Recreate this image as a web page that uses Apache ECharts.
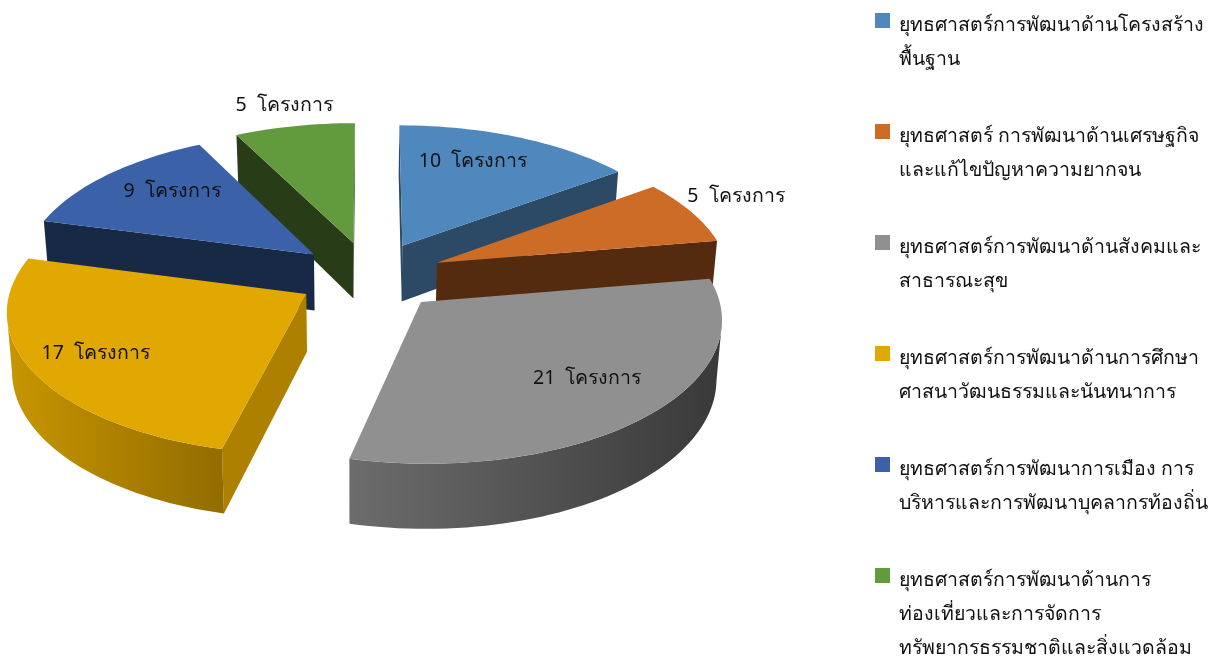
<!DOCTYPE html>
<html><head><meta charset="utf-8">
<style>html,body{margin:0;padding:0;background:#fff}#c{width:1225px;height:661px}</style>
<script src="https://cdn.jsdelivr.net/npm/echarts@6/dist/echarts.min.js"></script>
</head><body><div id="c"></div>
<script>
const categories = [
  'ยุทธศาสตร์การพัฒนาด้านโครงสร้าง\nพื้นฐาน',
  'ยุทธศาสตร์ การพัฒนาด้านเศรษฐกิจ\nและแก้ไขปัญหาความยากจน',
  'ยุทธศาสตร์การพัฒนาด้านสังคมและ\nสาธารณะสุข',
  'ยุทธศาสตร์การพัฒนาด้านการศึกษา\nศาสนาวัฒนธรรมและนันทนาการ',
  'ยุทธศาสตร์การพัฒนาการเมือง การ\nบริหารและการพัฒนาบุคลากรท้องถิ่น',
  'ยุทธศาสตร์การพัฒนาด้านการ\nท่องเที่ยวและการจัดการ\nทรัพยากรธรรมชาติและสิ่งแวดล้อม'
];
const values = [10, 5, 21, 17, 9, 5];
const unit = 'โครงการ';
const topColors  = ['#4f88bd', '#cd6c27', '#909090', '#e0a800', '#3b62a9', '#629a3e'];
const cutColors  = ['#2c4a66', '#552b0f', '#5a5a5a', '#ad8000', '#182946', '#283c18'];
const wallLight  = ['#3d6a94', '#8a4a1a', '#6c6c6c', '#c89600', '#2c4a80', '#4a7530'];
const wallDark   = ['#2c4a66', '#552b0f', '#393939', '#926c00', '#182946', '#283c18'];
const labelReach = [0.73, 1.21, 0.72, 0.78, 0.72, 1.2];
const labelTurn  = [-5, -2, -3, 0, 4, 0];

const CX = 370, CY = 276, RX = 293, RY = 139, PX = 0.105, PY = 0.105, EXPLODE = 0.25, DEPTH = 57;
const LOW_CX = 355, LOW_SHRINK = 0.985;
const total = values.reduce((a, b) => a + b, 0);
const rad = v => v / total * Math.PI * 2;
const starts = values.map((_, i) => rad(values.slice(0, i).reduce((a, b) => a + b, 0)));

function project(px, py, drop) {
  const sx = 1 / (1 - PX * py), sy = 1 / (1 - PY * py);
  let x = CX + px * RX * sx;
  if (drop) x = LOW_CX + (x - LOW_CX) * LOW_SHRINK;
  return [x, CY + py * RY * sy + (drop || 0) * sy];
}
function planeAt(i, reach, ang) {
  const mid = starts[i] + rad(values[i]) / 2;
  return [EXPLODE * Math.sin(mid) + reach * Math.sin(ang), -EXPLODE * Math.cos(mid) - reach * Math.cos(ang)];
}
function sliceShapes(i) {
  const a0 = starts[i], a1 = a0 + rad(values[i]);
  const n = Math.max(8, Math.round((a1 - a0) / 0.03));
  const pivot = planeAt(i, 0, a0);
  const rim = [];
  for (let k = 0; k <= n; k++) rim.push(planeAt(i, 1, a0 + (a1 - a0) * k / n));
  const top = p => project(p[0], p[1], 0);
  const low = p => project(p[0], p[1], DEPTH);
  const children = [];
  const quad = (a, b, fill) => children.push({
    type: 'polygon', shape: { points: [top(a), top(b), low(b), low(a)] }, style: { fill }
  });
  if (top(rim[0])[0] < top(pivot)[0]) quad(pivot, rim[0], cutColors[i]);
  if (top(pivot)[0] < top(rim[n])[0]) quad(rim[n], pivot, cutColors[i]);
  const arc = [];
  for (let k = 0; k < n; k++) {
    if (top(rim[k + 1])[0] < top(rim[k])[0]) {
      if (!arc.length) arc.push(rim[k]);
      arc.push(rim[k + 1]);
    }
  }
  if (arc.length) {
    children.push({
      type: 'polygon',
      shape: { points: arc.map(top).concat(arc.slice().reverse().map(low)) },
      style: { fill: { type: 'linear', x: 0, y: 0, x2: 1, y2: 0,
        colorStops: [{ offset: 0, color: wallLight[i] }, { offset: 1, color: wallDark[i] }] } }
    });
  }
  children.push({
    type: 'polygon', shape: { points: [top(pivot)].concat(rim.map(top)) }, style: { fill: topColors[i] }
  });
  const mid = (a0 + a1) / 2 + labelTurn[i] * Math.PI / 180;
  const lp = top(planeAt(i, labelReach[i], mid));
  children.push({
    type: 'text', x: lp[0], y: lp[1],
    style: { text: values[i] + '  ' + unit, fill: '#111', fontSize: 19.5,
      fontFamily: 'Tahoma, "Noto Sans", "DejaVu Sans", sans-serif', align: 'center', verticalAlign: 'middle' }
  });
  return { type: 'group', children };
}
const depthOrder = values.map((_, i) => i).sort((a, b) => {
  const y = i => planeAt(i, 0, 0)[1];
  return y(a) - y(b);
});
const series = categories.map((name, i) => ({
  type: 'custom', name, coordinateSystem: 'none', z: 2 + depthOrder.indexOf(i),
  itemStyle: { color: topColors[i] }, silent: true,
  data: [values[i]],
  renderItem: () => sliceShapes(i)
}));
const chart = echarts.init(document.getElementById('c'), null, { renderer: 'canvas' });
chart.setOption({
  animation: false,
  backgroundColor: '#fff',
  legend: {
    orient: 'vertical', left: 875, top: 8, height: 900, selectedMode: false, padding: 0,
    itemWidth: 19, itemHeight: 102, itemGap: 9,
    icon: 'path://M0 5H15V20H0Z M19 0L19 0 M19 102L19 102',
    data: categories,
    formatter: n => { const l = n.split('\n').length; return n + (l < 3 ? '\n ' : ''); },
    textStyle: { fontSize: 19.5, lineHeight: 34, color: '#111',
      fontFamily: 'Tahoma, "Noto Sans", "DejaVu Sans", sans-serif' }
  },
  series
});
</script></body></html>
